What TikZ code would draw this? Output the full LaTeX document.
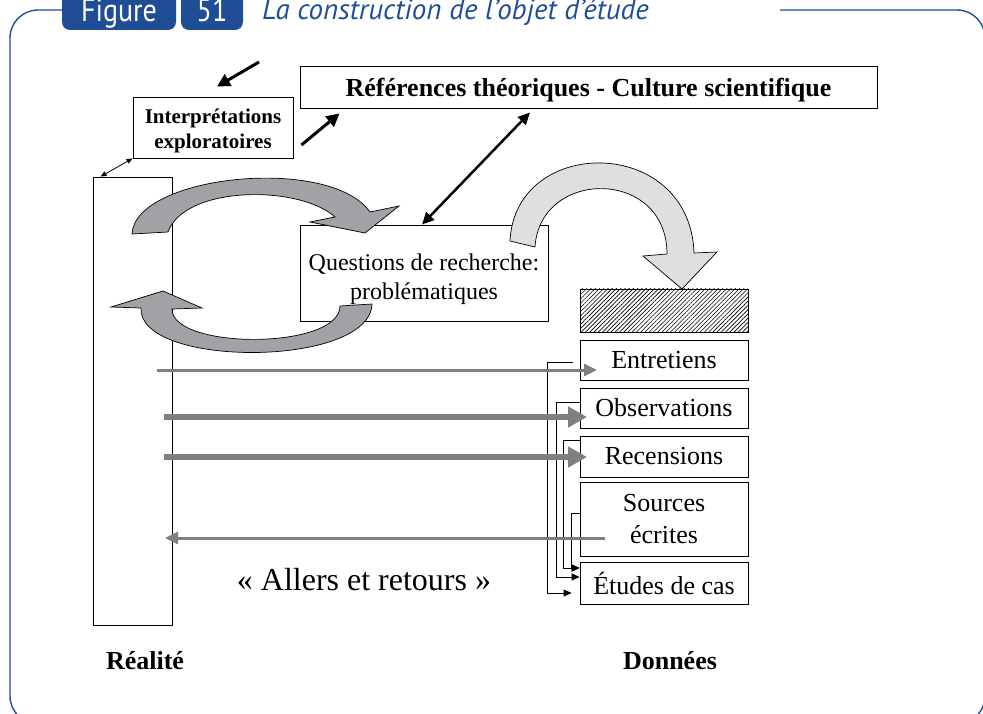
\documentclass[tikz,border=0pt]{standalone}
\usepackage{fontspec}
\setmainfont{Liberation Serif}
\newfontfamily\headfont{PT Sans}
\usetikzlibrary{arrows.meta,patterns.meta,calc}
\definecolor{figblue}{HTML}{1F4E96}
\definecolor{arrowgray}{HTML}{808080}
\definecolor{darkfill}{HTML}{A2A2A6}
\definecolor{lightfill}{HTML}{DEDFE0}

\begin{document}
\begin{tikzpicture}[x=1pt,y=-1pt,
  box/.style={draw, line width=0.9pt, inner sep=0pt, align=center},
  databox/.style={box, minimum width=168, font=\fontsize{26}{32}\selectfont},
  boldlabel/.style={font=\bfseries\fontsize{26}{30}\selectfont},
  blackarrow/.style={line width=3pt, -{Triangle[length=13,width=13]}},
  twoway/.style={line width=2.5pt, {Triangle[length=12,width=11]}-{Triangle[length=12,width=11]}},
  thinway/.style={line width=0.8pt, {Triangle[length=6,width=5]}-{Triangle[length=6,width=5]}},
  grayarrow/.style={arrowgray, line width=3pt, -{Triangle[length=13,width=12]}},
  grayarrowthick/.style={arrowgray, line width=6pt, -{Triangle[length=19,width=20]}},
  bracket/.style={line width=0.9pt, -{Triangle[length=8,width=7]}},
  curved/.style={line width=0.7pt, draw=black},
  frame/.style={figblue, line width=1.4pt, rounded corners=28},
  tab/.style={fill=figblue, rounded corners=8},
  tabtext/.style={anchor=base, text=white, font=\headfont\fontsize{28}{30}\selectfont},
]
\useasboundingbox (0,0) rectangle (983,714);

% ---- outer frame and heading tabs ----
\draw[frame] (62,10) -- (10,10) -- (10,724) -- (985,724) -- (985,10) -- (780,10);
\fill[tab] (62,-15) rectangle (176,30);
\fill[tab] (181,-15) rectangle (243,30);
\node[tabtext] (figword) at (119,22) {\scalebox{1}[1.15]{Figure}};
\node[tabtext] (fignum) at (212,22) {\scalebox{1}[1.15]{51}};
\node[anchor=base west, inner sep=0pt, text=figblue, font=\headfont\itshape\fontsize{29}{30}\selectfont] (title) at (262,20) {La construction de l’objet d’étude};

% ---- boxes ----
\node[box, minimum width=577, minimum height=42] (ref) at (588.5,87) {};
\node[font=\bfseries\fontsize{26}{30}\selectfont] (reftext) at (588.5,90) {Références théoriques - Culture scientifique};
\node[box, minimum width=160, minimum height=61] (interp) at (213,127.5) {};
\node[font=\bfseries\fontsize{21}{25}\selectfont, align=center] (interptext) at (213,131) {Interprétations\\exploratoires};
\node[box, minimum width=248, minimum height=96] (quest) at (424,273) {};
\node[font=\fontsize{24}{29}\selectfont, align=center] (questtext) at (424,279) {Questions de recherche:\\problématiques};
\node[box, minimum width=79, minimum height=448] (real) at (132.5,401) {};

\node[box, minimum width=168, minimum height=43, pattern={Lines[angle=45,distance=3pt,line width=0.6pt]}] (hatch) at (664,310.5) {};
\node[databox, minimum height=40] (entre) at (664,360) {Entretiens};
\node[databox, minimum height=40] (obs) at (664,408) {Observations};
\node[databox, minimum height=41] (recens) at (664,456.5) {Recensions};
\node[databox, minimum height=74] (sources) at (664,519) {Sources\\écrites};
\node[databox, minimum height=42] (etudes) at (664,583) {Études de cas};

% ---- labels ----
\node[font=\fontsize{32}{34}\selectfont] (allers) at (364,580) {«~Allers et retours~»};
\node[boldlabel] (reallabel) at (145,661) {Réalité};
\node[boldlabel] (donlabel) at (670,661) {Données};

% ---- black arrows ----
\coordinate (incoming) at (259,62);
\draw[blackarrow] (incoming) -- ([xshift=4,yshift=10]interp.north);
\draw[blackarrow] ([xshift=8,yshift=-17.5]interp.east) -- ([xshift=40,yshift=-5]ref.south west);
\draw[twoway] ([xshift=-2]quest.north) -- ([xshift=-58.5,yshift=-4]ref.south);
\draw[thinway] (interp.south west) -- ([xshift=8]real.north west);

% ---- curved block arrows ----
\filldraw[curved, fill=darkfill] (132,234) .. controls (135,175) and (330,155) .. (370,212)
  -- (399,206) -- (365,233) -- (310,222) -- (335,217)
  .. controls (300,185) and (185,185) .. (168,232) -- cycle;
\filldraw[curved, fill=darkfill] (372,304) .. controls (370,368) and (138,368) .. (141,308)
  -- (111,307) -- (163,291) -- (202,308) -- (172,309)
  .. controls (172,350) and (340,350) .. (340,306) -- cycle;
\filldraw[curved, fill=lightfill] (510,241) .. controls (515,135) and (690,135) .. (694,253)
  -- (717,252) -- (682,289) -- (643,256) -- (667,254)
  .. controls (667,168) and (540,168) .. (535,247) -- cycle;

% ---- links gathering into the case studies ----
\draw[bracket] ([xshift=-7,yshift=-2]entre.west) -- ++(-25,0) |- ([xshift=-8,yshift=-10]etudes.west);
\draw[bracket] ([yshift=6]obs.west) -- ++(-23,0) |- ([yshift=6]etudes.west);
\draw[bracket] ([yshift=16]recens.west) -- ++(-16,0) |- ([yshift=15]etudes.west);
\draw[bracket] ([yshift=6]sources.west) -- ++(-8,0) |- ([yshift=15]etudes.west);

% ---- back and forth between reality and data ----
\coordinate (g1s) at (157,370);  \coordinate (g1e) at (597,370);
\coordinate (g2s) at (164,417);  \coordinate (g2e) at (587,417);
\coordinate (g3s) at (164,457);  \coordinate (g3e) at (587,457);
\coordinate (g4s) at (605,538);  \coordinate (g4e) at (165,538);
\draw[grayarrow] (g1s) -- (g1e);
\draw[grayarrowthick] (g2s) -- (g2e);
\draw[grayarrowthick] (g3s) -- (g3e);
\draw[grayarrow] (g4s) -- (g4e);
\end{tikzpicture}
\end{document}
